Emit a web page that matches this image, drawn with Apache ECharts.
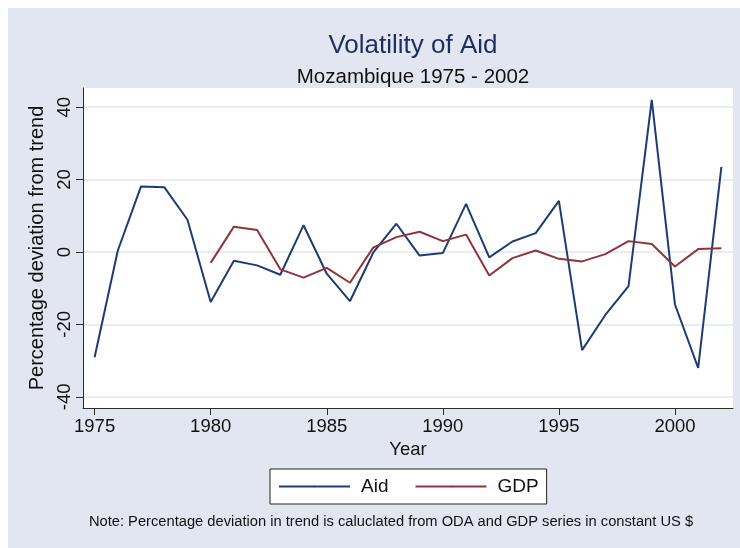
<!DOCTYPE html>
<html>
<head>
<meta charset="utf-8">
<script src="https://cdn.jsdelivr.net/npm/echarts@6/dist/echarts.min.js"></script>
<style>
  html, body { margin: 0; padding: 0; background: #fff; }
  #main { width: 740px; height: 548px; }
</style>
</head>
<body>
<div id="main"></div>
<script>
// data
const years = [1975, 1976, 1977, 1978, 1979, 1980, 1981, 1982, 1983, 1984, 1985, 1986, 1987, 1988,
  1989, 1990, 1991, 1992, 1993, 1994, 1995, 1996, 1997, 1998, 1999, 2000, 2001, 2002];
const aid = [-29.1, 0.4, 18.1, 17.9, 8.9, -13.8, -2.4, -3.7, -6.3, 7.4, -6.0, -13.6, -0.2, 7.8,
  -1.0, -0.3, 13.3, -1.5, 2.9, 5.2, 14.1, -27.1, -17.4, -9.4, 42.0, -14.5, -32.0, 23.5];
const gdp = [null, null, null, null, null, -3.0, 7.0, 6.1, -4.8, -7.1, -4.4, -8.5, 1.2, 4.1,
  5.6, 3.0, 4.8, -6.5, -1.7, 0.4, -1.9, -2.6, -0.6, 3.0, 2.2, -4.0, 0.8, 1.0];
const xTicks = [1975, 1980, 1985, 1990, 1995, 2000];
const yTicks = [-40, -20, 0, 20, 40];

const font = 'Liberation Sans, Arial, sans-serif';
const axisColor = '#2b2b2b';

const option = {
  backgroundColor: '#fff',
  animation: false,
  textStyle: { fontFamily: font },
  graphic: [
    { type: 'rect', z: -10, shape: { x: 8, y: 8, width: 732, height: 540 }, style: { fill: '#e2e6f0' } },
    {
      type: 'text', x: 391, y: 522,
      style: {
        text: 'Note: Percentage deviation in trend is caluclated from ODA and GDP series in constant US $',
        fontSize: 14.7, fontFamily: font, fill: '#111', textAlign: 'center', textVerticalAlign: 'middle'
      }
    }
  ],
  title: [
    {
      text: 'Volatility of Aid', left: 408, top: 28, textAlign: 'center',
      textStyle: { fontSize: 26, fontWeight: 'normal', color: '#1f2e5e', fontFamily: font }
    },
    {
      text: 'Mozambique 1975 - 2002', left: 408, top: 62, textAlign: 'center',
      textStyle: { fontSize: 20.5, fontWeight: 'normal', color: '#111', fontFamily: font }
    }
  ],
  grid: {
    left: 83, right: 7, top: 88, bottom: 140,
    show: true, backgroundColor: '#fff', borderWidth: 0,
    containLabel: false, outerBoundsMode: 'none'
  },
  legend: {
    left: 270, top: 469,
    padding: [8, 8, 8, 8],
    itemWidth: 71, itemHeight: 2, itemGap: 26,
    backgroundColor: '#fff', borderColor: '#222', borderWidth: 1, borderRadius: 0,
    textStyle: { fontSize: 19, color: '#111', fontFamily: font, padding: [0, 0, 0, 6] },
    data: ['Aid', 'GDP']
  },
  xAxis: {
    type: 'value', min: 1974.5, max: 2002.5,
    name: 'Year', nameLocation: 'middle', nameGap: 31,
    nameTextStyle: { fontSize: 18.5, color: '#111', fontFamily: font },
    axisLine: { show: true, onZero: false, lineStyle: { color: axisColor, width: 1 } },
    axisTick: { show: true, length: 7, customValues: xTicks, lineStyle: { color: axisColor } },
    axisLabel: { customValues: xTicks, fontSize: 18.5, color: '#111', margin: 9, formatter: v => String(v) },
    splitLine: { show: false }
  },
  yAxis: {
    type: 'value', min: -43.1, max: 45.3,
    name: 'Percentage deviation from trend', nameLocation: 'middle', nameRotate: 90, nameGap: 34,
    nameTextStyle: { fontSize: 20, color: '#111', fontFamily: font },
    axisLine: { show: true, onZero: false, lineStyle: { color: axisColor, width: 1 } },
    axisTick: { show: true, length: 7, customValues: yTicks, lineStyle: { color: axisColor } },
    axisLabel: { customValues: yTicks, rotate: 90, fontSize: 18.5, color: '#111', margin: 9 },
    splitLine: { show: true, lineStyle: { color: '#e1e6f0', width: 1.5 } }
  },
  series: [
    {
      name: 'Aid', type: 'line', symbol: 'none',
      data: years.map((y, i) => [y, aid[i]]),
      lineStyle: { color: '#1e3c72', width: 2 }, itemStyle: { color: '#1e3c72' }
    },
    {
      name: 'GDP', type: 'line', symbol: 'none',
      data: years.map((y, i) => [y, gdp[i]]),
      lineStyle: { color: '#90343b', width: 2 }, itemStyle: { color: '#90343b' }
    }
  ]
};

const myChart = echarts.init(document.getElementById('main'), null, { renderer: 'canvas' });
myChart.setOption(option);
</script>
</body>
</html>
